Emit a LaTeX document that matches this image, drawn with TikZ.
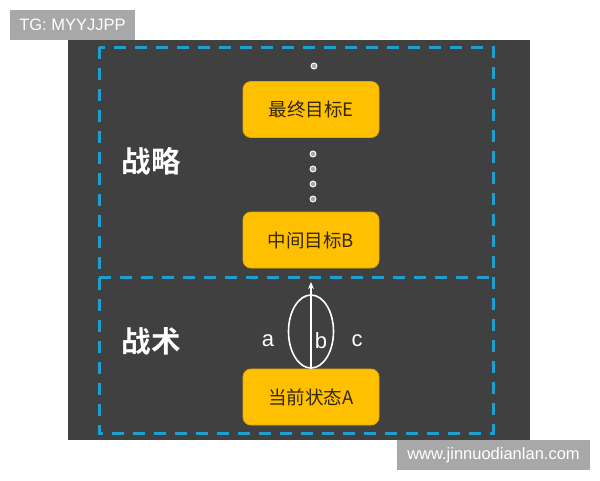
\documentclass[tikz,border=0pt]{standalone}
\usepackage{fontspec}
\setmainfont{Liberation Sans}
\newfontfamily\cjk{Noto Sans CJK SC}
\newfontfamily\cjkb{Noto Sans CJK SC Bold}
\usetikzlibrary{arrows.meta,shapes.geometric}
\definecolor{bgdark}{HTML}{404040}
\definecolor{dashblue}{HTML}{1F9FD0}
\definecolor{gold}{HTML}{FFC000}
\definecolor{goldedge}{HTML}{E8A800}
\definecolor{boxtext}{HTML}{33290A}
\definecolor{wmgray}{HTML}{A8A8A8}
\tikzset{
  goalbox/.style={draw=goldedge, line width=0.8pt, fill=gold, rounded corners=8pt,
    minimum width=136pt, minimum height=56pt, inner sep=0pt,
    text=boxtext, font=\cjk\fontsize{18.5}{20}\selectfont},
  bluedash/.style={draw=dashblue, line width=3pt, dash pattern=on 12pt off 9pt},
  dotring/.style={circle, draw=white, fill=gray!70, line width=0.9pt, minimum size=6pt, inner sep=0pt},
  sidelabel/.style={text=white, font=\cjkb\fontsize{29.5}{32}\selectfont},
  letter/.style={text=white, font=\fontsize{22}{24}\selectfont},
  wm/.style={fill=wmgray, text=white, inner sep=0pt, font=\fontsize{16.5}{18}\selectfont}
}
\begin{document}
\begin{tikzpicture}[x=1pt,y=-1pt]
\useasboundingbox (0,0) rectangle (600,480);
\fill[white] (0,0) rectangle (600,480);
\fill[bgdark] (68,40) rectangle (530,440);
% dashed frames
\draw[bluedash] (99,47) rectangle (493,433);
\draw[bluedash] (99,277) -- (493,277);
% boxes
\node[goalbox] (E) at (311,109.5) {最终目标E};
\node[goalbox] (B) at (311,240) {中间目标B};
\node[goalbox] (A) at (311,397) {当前状态A};
% dots
\node[dotring] (d0) at (314,66) {};
\node[dotring] (d1) at (313,154) {};
\node[dotring] (d2) at (313,169) {};
\node[dotring] (d3) at (313,184) {};
\node[dotring] (d4) at (313,199) {};
% side labels
\node[sidelabel] (zl) at (151,161) {战略};
\node[sidelabel] (zs) at (151,341) {战术};
% ellipse and arrow
\node[ellipse, draw=white, line width=1.6pt, minimum width=45pt, minimum height=73pt, inner sep=0pt] (ell) at (311,331.5) {};
\coordinate (tip) at (311,282);
\draw[white, line width=1.6pt, -{Stealth[length=7pt,width=6pt]}] (ell.south) -- (tip);
\node[letter] (la) at (268,341) {a};
\node[letter] (lb) at (321,341) {b};
\node[letter] (lc) at (357,341) {c};
% watermarks
\node[wm, minimum width=125pt, minimum height=30pt] (tg) at (72.5,25) {TG: MYYJJPP};
\node[wm, minimum width=193pt, minimum height=30pt] (www) at (493.5,455) {www.jinnuodianlan.com};
\end{tikzpicture}
\end{document}
